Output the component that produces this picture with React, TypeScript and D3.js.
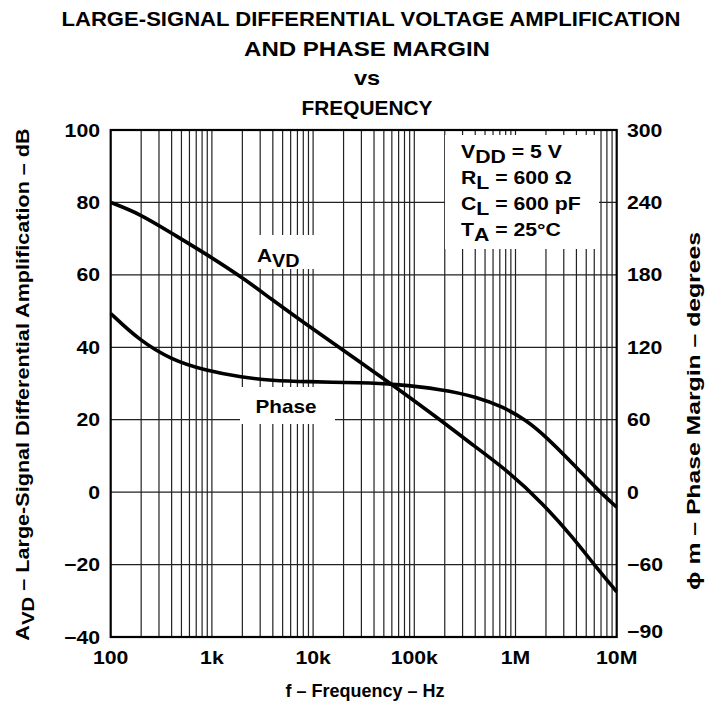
import React from "react";
import * as d3 from "d3";

const titleLines = [
  "LARGE-SIGNAL DIFFERENTIAL VOLTAGE AMPLIFICATION",
  "AND PHASE MARGIN",
  "vs",
  "FREQUENCY",
];

const xTickValues = [100, 1e3, 1e4, 1e5, 1e6, 1e7];
const xTickLabels = ["100", "1k", "10k", "100k", "1M", "10M"];

const leftTickValues = [100, 80, 60, 40, 20, 0, -20, -40];
const rightTickLabels = ["300", "240", "180", "120", "60", "0", "\u221260", "\u221290"];

// A_VD (dB) vs frequency (Hz)
const avdFreq = [100, 190, 400, 850, 2000, 3900, 8300, 17600, 32000, 61000, 190000, 325000, 870000, 1850000, 3650000, 6200000, 10000000];
const avdDb = [80, 77, 71.5, 66, 59.3, 53.2, 46.6, 40.2, 35.1, 29.6, 19.5, 14.4, 5.6, -3.1, -12.3, -20.6, -27.5];

// Phase margin (degrees) vs frequency (Hz)
const phaseFreq = [100, 190, 400, 850, 2000, 3900, 8300, 32000, 61000, 190000, 410000, 745000, 1270000, 2000000, 3950000, 6200000, 10000000];
const phaseDeg = [148, 126, 109.5, 101, 95, 92.5, 91.5, 90.6, 89.6, 85.2, 79, 70.8, 59.8, 46, 21, 3.5, -12.5];

const FONT = "'Liberation Sans', Arial, Helvetica, sans-serif";
const SX = 1.18;

function ST(props: { x: number; y: number; size: number; anchor?: string; sx?: number; rot?: number; children: React.ReactNode }) {
  const { x, y, size, anchor = "start", sx = SX, rot = 0, children } = props;
  return (
    <text
      transform={`translate(${x},${y}) rotate(${rot}) scale(${sx},1)`}
      textAnchor={anchor}
      fontSize={size}
    >
      {children}
    </text>
  );
}

export default function App() {
  const W = 709;
  const H = 702;
  const left = 110.7;
  const right = 616.7;
  const top = 130;
  const bottom = 637;

  const x = d3.scaleLog().domain([100, 1e7]).range([left, right]);
  const yL = d3.scaleLinear().domain([-40, 100]).range([bottom, top]);
  const yR = d3.scaleLinear().domain([-120, 300]).range([bottom, top]);

  const minorFreqs: number[] = [];
  for (let d = 100; d < 1e7; d *= 10) {
    for (let m = 2; m <= 9; m++) minorFreqs.push(d * m);
  }
  const majorInner = xTickValues.slice(1, -1);

  const avdLine = d3
    .line<number>()
    .x((_, i) => x(avdFreq[i]))
    .y((v) => yL(v))
    .curve(d3.curveBasis);
  const phaseLine = d3
    .line<number>()
    .x((_, i) => x(phaseFreq[i]))
    .y((v) => yR(v))
    .curve(d3.curveBasis);

  const gridColor = "#222";

  return (
    <svg width={W} height={H} style={{ position: "absolute", left: 0, top: 0, background: "#fff" }} fontFamily={FONT} fontWeight="bold">
      <rect x={0} y={0} width={W} height={H} fill="#fff" />
      {/* title */}
      <text x={371} y={26} textAnchor="middle" fontSize={20} textLength={619} lengthAdjust="spacingAndGlyphs">{titleLines[0]}</text>
      <text x={367} y={56} textAnchor="middle" fontSize={20} textLength={246} lengthAdjust="spacingAndGlyphs">{titleLines[1]}</text>
      <ST x={367} y={85} size={20} anchor="middle">{titleLines[2]}</ST>
      <text x={367} y={115} textAnchor="middle" fontSize={20} textLength={131} lengthAdjust="spacingAndGlyphs">{titleLines[3]}</text>

      {/* grid */}
      <g stroke={gridColor} strokeWidth={1.2}>
        {minorFreqs.concat(majorInner).map((f, i) => (
          <line key={"v" + i} x1={x(f)} x2={x(f)} y1={top} y2={bottom} />
        ))}
        {leftTickValues.slice(1, -1).map((v, i) => (
          <line key={"h" + i} x1={left} x2={right} y1={yL(v)} y2={yL(v)} />
        ))}
      </g>

      {/* white label boxes */}
      <rect x={445} y={135} width={154} height={114} fill="#fff" />
      <rect x={250} y={235} width={78} height={34} fill="#fff" />
      <rect x={240} y={387} width={95} height={37} fill="#fff" />

      {/* curves */}
      <path d={avdLine(avdDb) || ""} fill="none" stroke="#000" strokeWidth={3.6} />
      <path d={phaseLine(phaseDeg) || ""} fill="none" stroke="#000" strokeWidth={3.6} />

      {/* frame */}
      <rect x={left} y={top} width={right - left} height={bottom - top} fill="none" stroke="#000" strokeWidth={2.2} />

      {/* left ticks */}
      {leftTickValues.map((v, i) => (
        <ST key={"l" + i} x={100} y={yL(v) + 6.5} size={18} anchor="end">
          {v < 0 ? "\u2212" + Math.abs(v) : String(v)}
        </ST>
      ))}
      {/* right ticks */}
      {leftTickValues.map((v, i) => (
        <ST key={"r" + i} x={627} y={(i === leftTickValues.length - 1 ? yL(v) - 6 : yL(v)) + 6.5} size={18}>
          {rightTickLabels[i]}
        </ST>
      ))}
      {/* bottom ticks */}
      {xTickValues.map((f, i) => (
        <ST key={"b" + i} x={x(f)} y={664} size={18} anchor="middle">
          {xTickLabels[i]}
        </ST>
      ))}

      {/* axis titles */}
      <text x={365} y={697} textAnchor="middle" fontSize={18}>f – Frequency – Hz</text>
      <ST x={29} y={(top + bottom) / 2 + 1} rot={-90} size={18} anchor="middle" sx={1.2}>
        A<tspan dy={5} fontSize={17}>VD</tspan><tspan dy={-5}> – Large-Signal Differential Amplification – dB</tspan>
      </ST>
      <text transform={`translate(700, 411) rotate(-90)`} textAnchor="middle" fontSize={18} textLength={358} lengthAdjust="spacingAndGlyphs">
        ϕ m – Phase Margin – degrees
      </text>

      {/* annotation */}
      <ST x={461} y={158} size={18}>V<tspan dy={5}>DD</tspan><tspan dy={-5}> = 5 V</tspan></ST>
      <ST x={461} y={184} size={18}>R<tspan dy={5}>L</tspan><tspan dy={-5}> = 600 Ω</tspan></ST>
      <ST x={461} y={210} size={18}>C<tspan dy={5}>L</tspan><tspan dy={-5}> = 600 pF</tspan></ST>
      <ST x={461} y={236} size={18}>T<tspan dy={5}>A</tspan><tspan dy={-5}> = 25°C</tspan></ST>

      {/* curve labels */}
      <ST x={257} y={262} size={19} sx={1.1}>A<tspan dy={5} fontSize={18}>VD</tspan></ST>
      <ST x={286} y={413} size={18} anchor="middle" sx={1.15}>Phase</ST>
    </svg>
  );
}
